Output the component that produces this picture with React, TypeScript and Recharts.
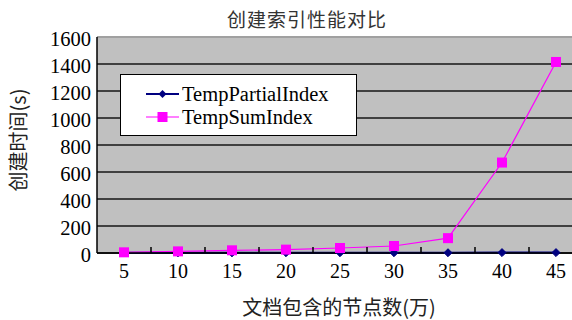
import React from 'react';
import { LineChart, Line, XAxis, YAxis, CartesianGrid, ReferenceLine } from 'recharts';

const categories = ['5', '10', '15', '20', '25', '30', '35', '40', '45'];
const partialIndex = [1, 1, 1, 2, 2, 2, 2, 3, 3];
const sumIndex = [5, 12, 20, 25, 37, 52, 110, 670, 1415];
const yTicks = [0, 200, 400, 600, 800, 1000, 1200, 1400, 1600];

const data = categories.map((c, i) => ({ name: c, partial: partialIndex[i], sum: sumIndex[i] }));

const CHART_W = 600;
const CHART_H = 320;
const MARGIN = { top: 37, right: 17, bottom: 37, left: 0 };
const YAXIS_W = 97;
const XAXIS_H = 30;
const PLOT_W = CHART_W - MARGIN.left - MARGIN.right - YAXIS_W;
const BAND = PLOT_W / categories.length;

const SERIF = '"Liberation Serif", "Times New Roman", serif';
const CJK = '"Noto Sans CJK SC", sans-serif';

const XTick = (props: any) => {
  const { x, y, payload } = props;
  return (
    <g>
      <text x={x} y={y + 25} textAnchor="middle" style={{ fontFamily: SERIF, fontSize: '20px', fill: '#000' }}>
        {payload.value}
      </text>
      <line x1={x + BAND / 2} x2={x + BAND / 2} y1={y} y2={y - 6} stroke="#000" strokeWidth={1.5} />
    </g>
  );
};

const YTick = (props: any) => {
  const { x, y, payload } = props;
  return (
    <text x={x} y={y + 9} textAnchor="end" style={{ fontFamily: SERIF, fontSize: '20.5px', fill: '#000' }}>
      {payload.value}
    </text>
  );
};

const Diamond = (props: any) => {
  const { cx, cy } = props;
  if (cx == null || cy == null) return null;
  const r = 4;
  return <path d={`M${cx},${cy - r}L${cx + r},${cy}L${cx},${cy + r}L${cx - r},${cy}Z`} fill="#000080" stroke="#000080" />;
};

const Square = (props: any) => {
  const { cx, cy } = props;
  if (cx == null || cy == null) return null;
  const s = 5;
  return <rect x={cx - s} y={cy - s} width={2 * s} height={2 * s} fill="#FF00FF" />;
};

export default function App() {
  return (
    <div style={{ position: 'absolute', left: 0, top: 0, width: 572, height: 320, overflow: 'hidden', background: '#fff' }}>
      <div style={{ position: 'absolute', left: 0, top: 0, fontFamily: SERIF }}>
        <LineChart width={CHART_W} height={CHART_H} data={data} margin={MARGIN} style={{ fontFamily: SERIF }}>
          <CartesianGrid vertical={false} horizontal={true} fill="#C0C0C0" stroke="#404040" strokeWidth={2} />
          <ReferenceLine y={1600} stroke="#A0A0A0" strokeWidth={2} />
          <XAxis
            dataKey="name"
            height={XAXIS_H}
            tickSize={0}
            tickMargin={0}
            tick={<XTick />}
            axisLine={{ stroke: '#000', strokeWidth: 1.5 }}
            interval={0}
            padding={{ left: BAND / 2, right: BAND / 2 }}
          />
          <YAxis
            width={YAXIS_W}
            domain={[0, 1600]}
            ticks={yTicks}
            tickSize={0}
            tickMargin={6}
            tickLine={false}
            tick={<YTick />}
            axisLine={{ stroke: '#000', strokeWidth: 1.5 }}
            interval={0}
          />
          <Line dataKey="partial" stroke="#000080" strokeWidth={2} dot={<Diamond />} isAnimationActive={false} />
          <Line dataKey="sum" stroke="#FF00FF" strokeWidth={1.2} dot={<Square />} isAnimationActive={false} />
        </LineChart>
      </div>
      <div style={{ position: 'absolute', left: 0, top: 5, width: 614, textAlign: 'center', fontFamily: CJK, fontSize: 19, letterSpacing: 1, color: '#333', lineHeight: '28px' }}>
        创建索引性能对比
      </div>
      <div style={{ position: 'absolute', left: 139, top: 293, width: 400, textAlign: 'center', fontFamily: CJK, fontSize: 20, color: '#222', lineHeight: '28px' }}>
        文档包含的节点数(万)
      </div>
      <div style={{ position: 'absolute', left: 18, top: 140, width: 0, height: 0 }}>
        <div style={{ position: 'absolute', left: -80, top: -14, width: 160, textAlign: 'center', transform: 'rotate(-90deg)', fontFamily: CJK, fontSize: 20, color: '#222', lineHeight: '28px', whiteSpace: 'nowrap' }}>
          创建时间(s)
        </div>
      </div>
      <div style={{ position: 'absolute', left: 120, top: 74, width: 235, height: 60, background: '#fff', border: '1.5px solid #000', fontFamily: SERIF, fontSize: 20.5, color: '#000' }}>
        {[{ name: 'TempPartialIndex', color: '#000080', shape: 'diamond' }, { name: 'TempSumIndex', color: '#FF00FF', shape: 'square' }].map((it, i) => (
          <div key={it.name} style={{ position: 'absolute', left: 25, top: 6.5 + i * 23.5, height: 24, display: 'flex', alignItems: 'center' }}>
            <svg width={33} height={24} style={{ display: 'block' }}>
              <line x1={0} x2={33} y1={12} y2={12} stroke={it.color} strokeWidth={it.shape === 'diamond' ? 2 : 1.2} />
              {it.shape === 'diamond' ? (
                <path d="M16.5,8L20.5,12L16.5,16L12.5,12Z" fill={it.color} />
              ) : (
                <rect x={11.5} y={7} width={10} height={10} fill={it.color} />
              )}
            </svg>
            <span style={{ marginLeft: 3, lineHeight: '24px' }}>{it.name}</span>
          </div>
        ))}
      </div>
    </div>
  );
}
